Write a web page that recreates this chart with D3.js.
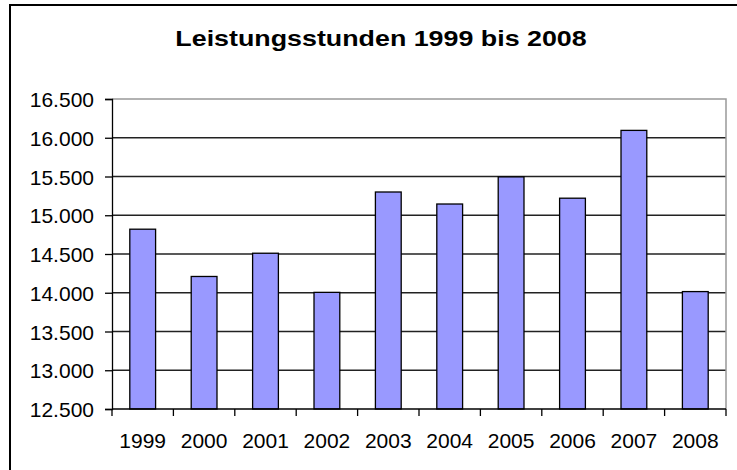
<!DOCTYPE html>
<html>
<head>
<meta charset="utf-8">
<script src="https://cdn.jsdelivr.net/npm/d3@7"></script>
<style>
  body { margin: 0; background: #fff; }
  text { font-family: Arial, "Liberation Sans", sans-serif; fill: #000; }
</style>
</head>
<body>
<script>
const years = ['1999', '2000', '2001', '2002', '2003', '2004', '2005', '2006', '2007', '2008'];
const hours = [14820, 14210, 14510, 14005, 15300, 15145, 15495, 15220, 16095, 14015];
const yTicks = [12500, 13000, 13500, 14000, 14500, 15000, 15500, 16000, 16500];

const width = 737, height = 470;
const plotLeft = 112, plotRight = 726, plotTop = 99, plotBottom = 409;

const svg = d3.select('body').append('svg')
  .attr('width', width)
  .attr('height', height);

// outer chart frame (runs off the right and bottom edges)
svg.append('rect')
  .attr('x', 10).attr('y', 5)
  .attr('width', 740).attr('height', 470)
  .attr('fill', 'none')
  .attr('stroke', '#000')
  .attr('stroke-width', 2);

// title glyphs are stretched wider in the original
svg.append('text')
  .attr('transform', 'translate(381,45.5) scale(1.22,1)')
  .attr('text-anchor', 'middle')
  .style('font-size', '22px')
  .style('font-weight', 'bold')
  .text('Leistungsstunden 1999 bis 2008');

const x = d3.scaleBand().domain(years).range([plotLeft, plotRight]).paddingInner(0.58).paddingOuter(0.29);
const y = d3.scaleLinear().domain([12500, 16500]).range([plotBottom, plotTop]);
const fmt = d3.formatLocale({ decimal: ',', thousands: '.', grouping: [3] }).format(',.0f');

// gridlines
svg.append('g')
  .selectAll('line')
  .data(yTicks.slice(1, -1))
  .enter().append('line')
    .attr('x1', plotLeft).attr('x2', plotRight)
    .attr('y1', d => y(d)).attr('y2', d => y(d))
    .attr('stroke', '#222')
    .attr('stroke-width', 1.3);

// plot area border, top and right
svg.append('path')
  .attr('d', `M${plotLeft},${plotTop}H${plotRight}V${plotBottom}`)
  .attr('fill', 'none')
  .attr('stroke', '#999')
  .attr('stroke-width', 1.5);

svg.append('g')
  .selectAll('rect')
  .data(hours)
  .enter().append('rect')
    .attr('x', (d, i) => x(years[i]))
    .attr('y', d => y(d))
    .attr('width', x.bandwidth())
    .attr('height', d => plotBottom - y(d))
    .attr('fill', '#9999FF')
    .attr('stroke', '#000')
    .attr('stroke-width', 1.3);

// y axis
const yAxis = svg.append('g')
  .attr('transform', `translate(${plotLeft},0)`)
  .call(d3.axisLeft(y).tickValues(yTicks).tickFormat(fmt).tickSize(7).tickPadding(11));
yAxis.select('.domain').attr('stroke', '#000').attr('stroke-width', 1.3);
yAxis.selectAll('.tick line').attr('stroke', '#000').attr('stroke-width', 1.3);
yAxis.selectAll('text').style('font-size', '21px').attr('dy', '0.36em');

// x axis, ticks at category boundaries
const bounds = d3.range(years.length + 1).map(i => plotLeft + i * (plotRight - plotLeft) / years.length);
const xAxis = svg.append('g').attr('transform', `translate(0,${plotBottom})`);
xAxis.append('line')
  .attr('x1', plotLeft).attr('x2', plotRight)
  .attr('stroke', '#000').attr('stroke-width', 1.3);
xAxis.selectAll('.tk')
  .data(bounds)
  .enter().append('line')
    .attr('class', 'tk')
    .attr('x1', d => d).attr('x2', d => d)
    .attr('y1', 0).attr('y2', 7)
    .attr('stroke', '#000').attr('stroke-width', 1.3);
xAxis.selectAll('.lbl')
  .data(years)
  .enter().append('text')
    .attr('class', 'lbl')
    .attr('x', d => x(d) + x.bandwidth() / 2)
    .attr('y', 39)
    .attr('text-anchor', 'middle')
    .style('font-size', '21px')
    .text(d => d);
</script>
</body>
</html>
